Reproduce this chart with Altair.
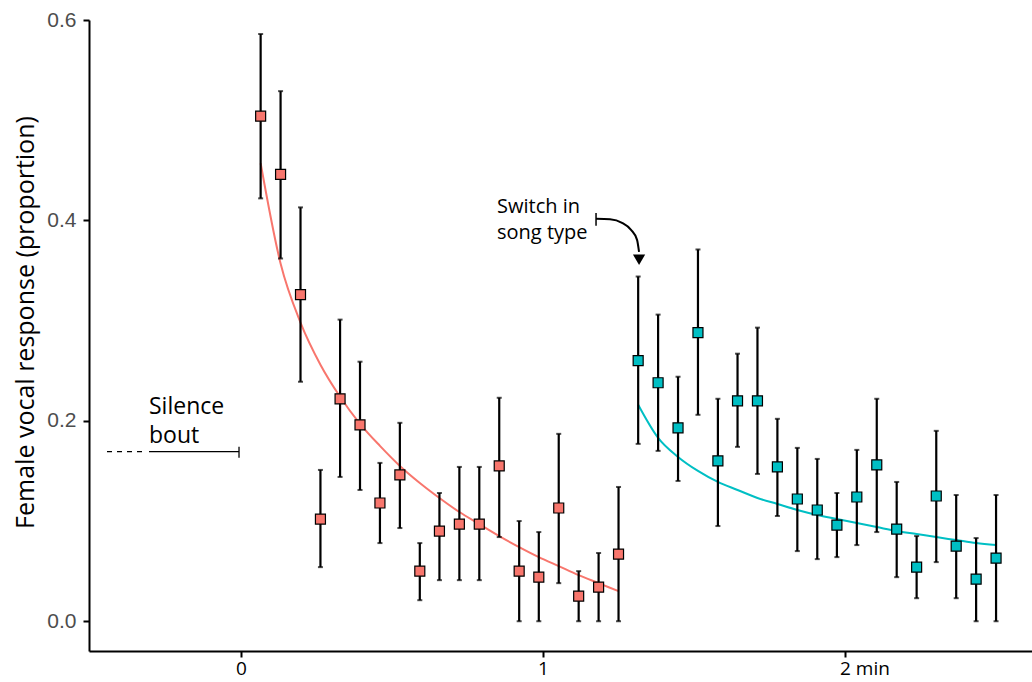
import altair as alt
import pandas as pd

# ---- data ----
red_x = [0.065, 0.131, 0.197, 0.263, 0.328, 0.394, 0.460, 0.526, 0.592, 0.657,
         0.723, 0.789, 0.855, 0.921, 0.986, 1.052, 1.118, 1.184, 1.250]
red_y = [0.504, 0.446, 0.326, 0.102, 0.222, 0.196, 0.118, 0.146, 0.050, 0.090,
         0.097, 0.097, 0.155, 0.050, 0.044, 0.113, 0.025, 0.034, 0.067]
red_hi = [0.586, 0.529, 0.413, 0.151, 0.301, 0.259, 0.158, 0.198, 0.078, 0.128,
          0.154, 0.154, 0.223, 0.100, 0.089, 0.187, 0.050, 0.068, 0.134]
red_lo = [0.422, 0.362, 0.239, 0.054, 0.144, 0.131, 0.078, 0.093, 0.021, 0.041,
          0.041, 0.041, 0.084, 0.000, 0.000, 0.038, 0.000, 0.000, 0.000]
red_fit = [0.457, 0.357, 0.298, 0.256, 0.224, 0.197, 0.175, 0.155, 0.138, 0.123,
           0.109, 0.097, 0.085, 0.074, 0.064, 0.055, 0.046, 0.038, 0.030]

cyan_x = [1.315, 1.381, 1.447, 1.513, 1.579, 1.644, 1.710, 1.776, 1.842, 1.908,
          1.973, 2.039, 2.105, 2.171, 2.237, 2.302, 2.368, 2.434, 2.500]
cyan_y = [0.260, 0.238, 0.193, 0.288, 0.160, 0.220, 0.220, 0.154, 0.122, 0.111,
          0.096, 0.124, 0.156, 0.092, 0.054, 0.125, 0.075, 0.042, 0.063]
cyan_hi = [0.344, 0.306, 0.244, 0.371, 0.222, 0.267, 0.293, 0.202, 0.173, 0.162,
           0.128, 0.171, 0.222, 0.139, 0.085, 0.190, 0.126, 0.083, 0.126]
cyan_lo = [0.177, 0.170, 0.140, 0.206, 0.095, 0.174, 0.147, 0.105, 0.070, 0.062,
           0.064, 0.076, 0.089, 0.044, 0.023, 0.059, 0.023, 0.000, 0.000]
cyan_fit = [0.216, 0.183, 0.164, 0.150, 0.139, 0.131, 0.123, 0.117, 0.111, 0.106,
            0.102, 0.098, 0.094, 0.090, 0.087, 0.084, 0.081, 0.078, 0.076]

x_ticks = [0, 1, 2]
y_ticks = [0.0, 0.2, 0.4, 0.6]

# annotation geometry (data coordinates)
arrow_x = [1.1755, 1.2219, 1.2616, 1.2914, 1.3113, 1.3179]
arrow_y = [0.4016, 0.4011, 0.3976, 0.3906, 0.3806, 0.3686]

pts = pd.DataFrame({
    "x": red_x + cyan_x,
    "y": red_y + cyan_y,
    "hi": red_hi + cyan_hi,
    "lo": red_lo + cyan_lo,
    "fit": red_fit + cyan_fit,
    "g": ["a"] * 19 + ["b"] * 19,
})

xs = alt.Scale(domain=[-0.5033, 2.619], nice=False, zero=False)
ys = alt.Scale(domain=[-0.0297, 0.6], nice=False, zero=False)
cs = alt.Scale(domain=["a", "b"], range=["#F8766D", "#00BFC4"])

X = alt.X("x:Q", scale=xs, axis=alt.Axis(
    values=x_ticks, title=None, grid=False, domainColor="black", domainWidth=2,
    tickColor="black", tickWidth=2, tickSize=6, labelColor="black",
    labelFont="Open Sans", labelFontSize=19, labelPadding=2,
    labelAlign="left", labelOffset=-5.5,
    labelExpr="datum.value == 2 ? '2 min' : '' + datum.value"))
Y = alt.Y("y:Q", scale=ys, axis=alt.Axis(
    values=y_ticks, format=".1f", title="Female vocal response (proportion)",
    grid=False, domainColor="black", domainWidth=2, tickColor="black",
    tickWidth=2, tickSize=6, labelColor="#4d4d4d", labelFont="Liberation Sans",
    labelFontSize=21, labelPadding=7, titleFont="Open Sans", titleFontSize=25,
    titleFontWeight="normal", titleColor="black", titleX=-56, titleY=302,
    titleBaseline="alphabetic", titleAngle=270))

base = alt.Chart(pts)

bars = base.mark_rule(color="black", strokeWidth=2.2).encode(
    x=alt.X("x:Q", scale=xs), y=alt.Y("lo:Q", scale=ys), y2="hi:Q")
cap_hi = base.mark_tick(color="black", thickness=2, size=5, orient="horizontal").encode(
    x=alt.X("x:Q", scale=xs), y=alt.Y("hi:Q", scale=ys))
cap_lo = base.mark_tick(color="black", thickness=2, size=5, orient="horizontal").encode(
    x=alt.X("x:Q", scale=xs), y=alt.Y("lo:Q", scale=ys))
fit = base.mark_line(strokeWidth=2, interpolate="monotone").encode(
    x=alt.X("x:Q", scale=xs), y=alt.Y("fit:Q", scale=ys),
    color=alt.Color("g:N", scale=cs, legend=None), detail="g:N")
sq = base.mark_square(size=100, stroke="black", strokeWidth=1.2, opacity=1).encode(
    x=X, y=Y, fill=alt.Fill("g:N", scale=cs, legend=None))

# Silence bout annotation
dash = alt.Chart(pd.DataFrame({"x": [-0.4437], "x2": [-0.318], "y": [0.1692]})).mark_rule(
    color="black", strokeWidth=1.3, strokeDash=[5, 5]).encode(
    x=alt.X("x:Q", scale=xs), x2="x2:Q", y=alt.Y("y:Q", scale=ys))
solid = alt.Chart(pd.DataFrame({"x": [-0.3046], "x2": [-0.0066], "y": [0.1692]})).mark_rule(
    color="black", strokeWidth=1.3).encode(
    x=alt.X("x:Q", scale=xs), x2="x2:Q", y=alt.Y("y:Q", scale=ys))
endtick = alt.Chart(pd.DataFrame({"x": [-0.0066], "y": [0.1632], "y2": [0.1742]})).mark_rule(
    color="black", strokeWidth=1.3).encode(
    x=alt.X("x:Q", scale=xs), y=alt.Y("y:Q", scale=ys), y2="y2:Q")
sil_txt = alt.Chart(pd.DataFrame({"x": [-0.3046, -0.3046], "y": [0.2069, 0.1780],
                                  "t": ["Silence", "bout"]})).mark_text(
    align="left", baseline="alphabetic", font="Open Sans", fontSize=23, color="black").encode(
    x=alt.X("x:Q", scale=xs), y=alt.Y("y:Q", scale=ys), text="t:N")

# Switch in song type annotation
sw_txt = alt.Chart(pd.DataFrame({"x": [0.8477, 0.8477], "y": [0.4075, 0.3816],
                                 "t": ["Switch in", "song type"]})).mark_text(
    align="left", baseline="alphabetic", font="Open Sans", fontSize=20, color="black").encode(
    x=alt.X("x:Q", scale=xs), y=alt.Y("y:Q", scale=ys), text="t:N")
sw_tick = alt.Chart(pd.DataFrame({"x": [1.1755], "y": [0.3946], "y2": [0.4075]})).mark_rule(
    color="black", strokeWidth=1.5).encode(
    x=alt.X("x:Q", scale=xs), y=alt.Y("y:Q", scale=ys), y2="y2:Q")
arrow = alt.Chart(pd.DataFrame({"x": arrow_x, "y": arrow_y, "o": list(range(len(arrow_x)))})).mark_line(
    color="black", strokeWidth=2, interpolate="monotone").encode(
    x=alt.X("x:Q", scale=xs), y=alt.Y("y:Q", scale=ys), order="o:Q")
head = alt.Chart(pd.DataFrame({"x": [1.318], "y": [0.3607]})).mark_point(
    shape="triangle-down", filled=True, color="black", size=150, opacity=1).encode(
    x=alt.X("x:Q", scale=xs), y=alt.Y("y:Q", scale=ys))

chart = alt.layer(
    fit, bars, cap_hi, cap_lo, sq, dash, solid, endtick, sil_txt, sw_txt, sw_tick, arrow, head
).properties(
    width=943, height=631,
    autosize=alt.AutoSizeParams(type="none"),
    padding={"left": 89, "top": 20, "right": 0, "bottom": 31},
).configure(
    background="white",
    view=alt.ViewConfig(stroke=None),
    axis=alt.AxisConfig(grid=False),
)

chart.save("out.html", embed_options={"renderer": "svg", "actions": False})
